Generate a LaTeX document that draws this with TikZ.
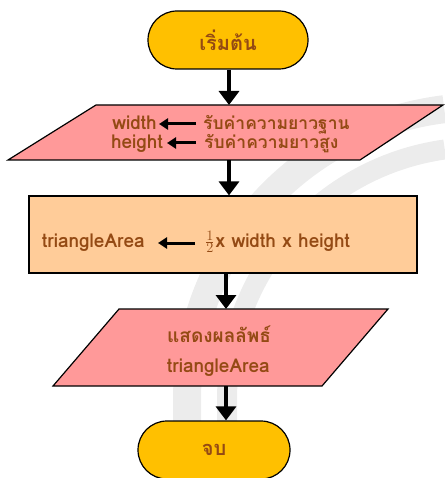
\documentclass[tikz,border=0pt]{standalone}
\usepackage{fontspec}
\newfontfamily\thaifont[Script=Thai]{Loma}
\usepackage{tikz}
\usetikzlibrary{calc}
\usetikzlibrary{arrows.meta}
\definecolor{startgold}{RGB}{255,192,0}
\definecolor{iopink}{RGB}{255,153,153}
\definecolor{procpeach}{RGB}{255,204,153}
\definecolor{textbrown}{RGB}{148,74,20}
\definecolor{markgray}{RGB}{236,236,236}

\begin{document}
\begin{tikzpicture}[x=1pt,y=-1pt,
    terminal/.style={draw=black,line width=1.2pt,fill=startgold,rounded corners=29pt,
        minimum height=58pt,text=textbrown,font=\thaifont\bfseries\fontsize{20}{22}\selectfont},
    shapeline/.style={draw=black,line width=1.2pt},
    label/.style={inner sep=0pt,text=textbrown,font=\thaifont\bfseries\fontsize{19}{21}\selectfont},
    flow/.style={line width=4.5pt,-{Triangle[width=20pt,length=14pt]}},
    assign/.style={line width=3pt,-{Triangle[width=11pt,length=9pt]}}]
    \useasboundingbox (0,0) rectangle (444,478);
    % faint marks in the background
    \draw[markgray,line width=28pt] (187,478) -- (187,400) arc[start angle=180,end angle=263,radius=293];
    \draw[markgray,line width=20pt] (227,478) -- (227,400) arc[start angle=180,end angle=262,radius=253];
    % start
    \node[terminal,minimum width=160pt] (start) at (228,40) {เริ่มต้น};
    % input
    \coordinate (inA) at (96,105);
    \coordinate (inB) at (443,105);
    \coordinate (inC) at (360,160);
    \coordinate (inD) at (8,160);
    \draw[shapeline,fill=iopink] (inA) -- (inB) -- (inC) -- (inD) -- cycle;
    \coordinate (intop) at (229,105);
    \coordinate (inbot) at (229,160);
    \node[label,anchor=base east] (w) at (157,130) {width};
    \node[label,anchor=base west,font=\thaifont\bfseries\fontsize{17.5}{21}\selectfont] (wtext) at (203,130) {รับค่าความยาวฐาน};
    \node[label,anchor=base east] (h) at (163,149) {height};
    \node[label,anchor=base west,font=\thaifont\bfseries\fontsize{17.5}{21}\selectfont] (htext) at (204,149) {รับค่าความยาวสูง};
    \draw[assign] (196,124) coordinate (wfrom) -- ($(w.east |- wfrom)+(2,0)$);
    \draw[assign] (196,143) coordinate (hfrom) -- ($(h.east |- hfrom)+(4,0)$);
    % process
    \node[shapeline,fill=procpeach,minimum width=388pt,minimum height=77pt,inner sep=0pt] (proc) at (223,234.5) {};
    \node[label,anchor=base west] (area) at (42,247) {triangleArea};
    \node[label,anchor=base west] (calc) at (205,247) {$\frac{1}{2}$\kern1pt x width x height};
    \draw[assign] (195,243) coordinate (afrom) -- (158,243);
    % output
    \coordinate (outA) at (119,309);
    \coordinate (outB) at (388,309);
    \coordinate (outC) at (322,386);
    \coordinate (outD) at (53,386);
    \draw[shapeline,fill=iopink] (outA) -- (outB) -- (outC) -- (outD) -- cycle;
    \coordinate (outtop) at (226,309);
    \coordinate (outbot) at (226,386);
    \node[label,anchor=base west] (show) at (167,342) {แสดงผลลัพธ์};
    \node[label,anchor=base west] (res) at (167,372) {triangleArea};
    % end
    \node[terminal,minimum width=152pt] (stop) at (214,450) {จบ};
    % flow lines
    \draw[flow] (start.south -| intop) -- (intop);
    \draw[flow] (inbot) -- (inbot |- proc.north);
    \draw[flow] (proc.south -| outtop) -- (outtop);
    \draw[flow] (outbot) -- (outbot |- stop.north);
\end{tikzpicture}
\end{document}
